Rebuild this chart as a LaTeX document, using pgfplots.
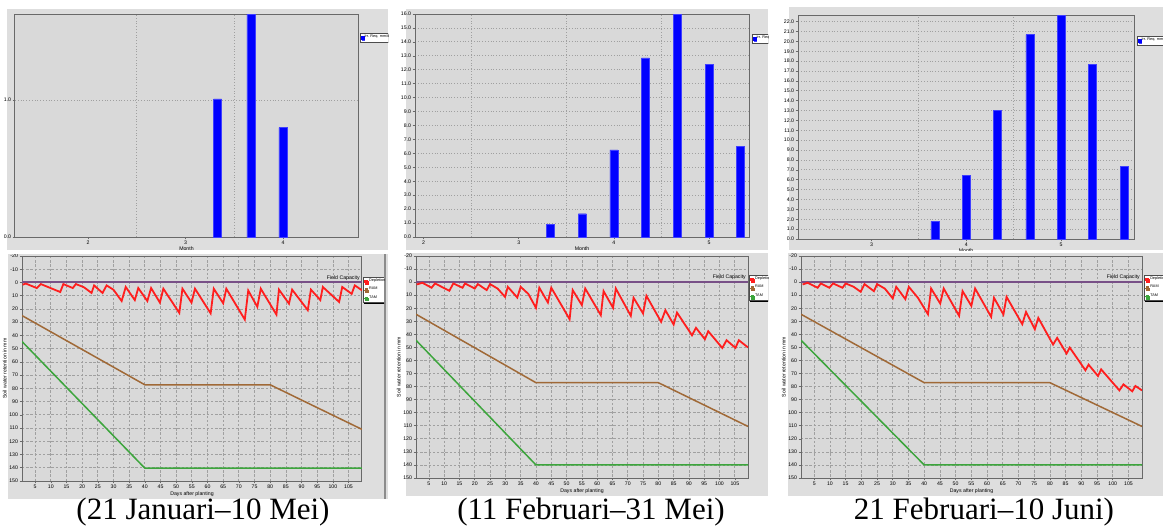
\documentclass[border=0pt]{standalone}
\usepackage{fontspec}
\setmainfont{Liberation Sans}
\newfontfamily\capfont{Liberation Serif}
\usepackage{pgfplots}
\pgfplotsset{compat=1.18}
\usetikzlibrary{shadows}

\definecolor{panelgray}{RGB}{222,222,222}
\definecolor{plotbg}{RGB}{217,217,217}
\definecolor{framegray}{RGB}{105,105,105}
\definecolor{gridgray}{RGB}{160,160,160}
\definecolor{depred}{RGB}{255,30,30}
\definecolor{rambrown}{RGB}{160,105,55}
\definecolor{tamgreen}{RGB}{60,165,60}
\definecolor{fcpurple}{RGB}{120,80,135}
\definecolor{barblue}{RGB}{0,0,255}

\newcommand{\tinyfont}{\fontsize{2.6}{3}\selectfont}
\newcommand{\legfont}{\fontsize{1.9}{2.2}\selectfont}

\tikzset{fclabel/.style={pos=1, anchor=south east, font=\tinyfont, text=black, inner sep=0.6pt}}

\pgfplotsset{
  mycommon/.style={
    scale only axis,
    anchor=north west,
    axis background/.style={fill=plotbg},
    axis line style={draw=framegray, line width=0.5pt},
    tick style={draw=framegray, line width=0.3pt},
    major tick length=1.2pt,
    tick align=outside,
    xtick pos=bottom, ytick pos=left,
    ticklabel style={font=\tinyfont, inner sep=0.6pt},
    label style={font=\tinyfont, inner sep=0.5pt},
    /pgf/number format/assume math mode=true,
    legend style={font=\legfont, draw=black!70, fill=white, inner sep=0.5pt,
      outer sep=0pt, anchor=north west, row sep=0.8pt,
      nodes={inner sep=0.3pt},
      general shadow={fill=black, shadow xshift=0.3pt, shadow yshift=-0.7pt}},
    legend cell align=left,
  },
  topax/.style={
    mycommon,
    ymin=0,
    xmajorgrids=false, ymajorgrids=true,
    grid style={densely dotted, draw=gridgray, line width=0.4pt},
    extra x tick labels={},
    extra x tick style={grid=major, major tick length=0pt},
    yticklabel style={/pgf/number format/.cd, fixed, fixed zerofill, precision=1},
    xlabel={Month}, xlabel style={yshift=1.5pt},
    legend image code/.code={\fill[barblue] (0pt,-0.7pt) rectangle (1.3pt,0.8pt);},
  },
  botax/.style={
    mycommon,
    y dir=reverse, ymin=-20, ymax=150, ytick={-20,-10,...,150},
    xmin=0.8, xmax=109.3, xtick={5,10,...,105},
    grid=major,
    grid style={dash pattern=on 1.2pt off 0.9pt, draw=gridgray, line width=0.35pt},
    xlabel={Days after planting}, ylabel={Soil water retention in mm},
    legend image code/.code={\draw[#1, line width=0.3pt] (0pt,0pt) -- (2pt,0pt);
      \fill[#1] (0.5pt,-0.5pt) rectangle (1.5pt,0.5pt);},
  },
  irr/.style={ybar, bar width=4pt, bar shift=0pt, fill=barblue, draw=blue!75!white, line width=0.2pt},
  fc/.style={fcpurple, line width=1pt, forget plot},
  dep/.style={depred, line width=0.9pt},
  ram/.style={rambrown, line width=0.75pt},
  tam/.style={tamgreen, line width=0.75pt},
}

\begin{document}
\begin{tikzpicture}
\useasboundingbox (0,0) rectangle (581.5pt,-263.5pt);
\fill[white] (0,0) rectangle (581.5pt,-263.5pt);

% panels
\fill[panelgray] (3.5pt,-4.5pt) rectangle (194pt,-125pt);
\fill[panelgray] (203pt,-4.5pt) rectangle (384pt,-125pt);
\fill[panelgray] (394.5pt,-3.5pt) rectangle (581.5pt,-125pt);
\fill[panelgray] (4pt,-127pt) rectangle (194pt,-249.5pt);
\fill[panelgray] (203pt,-126.5pt) rectangle (384pt,-248pt);
\fill[panelgray] (394pt,-126.5pt) rectangle (581.5pt,-248pt);
\draw[black!45, line width=0.6pt] (192.5pt,-127pt) -- (192.5pt,-249.5pt);

% ---------- column 1, top
\begin{scope}
\clip (0pt,-4.5pt) rectangle (194pt,-125pt);
\begin{axis}[topax, at={(7.5pt,-7pt)}, width=171.5pt, height=111.5pt,
  xmin=1.25, xmax=4.77, ymax=1.63, ytick={0,1}, xtick={2,3,4},
  extra x ticks={2.5,3.5}, legend style={at={(1.006,0.915)}}]
\addplot[irr] coordinates {(3.33,1.01) (3.67,1.63) (4.0,0.80)};
\addlegendentry{Irr. Req. mm/dec}
\end{axis}
\end{scope}

% ---------- column 2, top
\begin{scope}
\clip (197pt,-4.5pt) rectangle (384pt,-125pt);
\begin{axis}[topax, at={(207.5pt,-7pt)}, width=167pt, height=111.5pt,
  xmin=1.91, xmax=5.42, ymax=16, ytick={0,1,...,16}, xtick={2,3,4,5},
  extra x ticks={2.5,3.5,4.5}, legend style={at={(1.009,0.91)}}]
\addplot[irr] coordinates {(3.33,0.93) (3.67,1.67) (4.0,6.25) (4.33,12.86)
  (4.67,16.0) (5.0,12.39) (5.33,6.49)};
\addlegendentry{Irr. Req. mm/dec}
\end{axis}
\end{scope}

% ---------- column 3, top
\begin{scope}
\clip (388pt,-3.5pt) rectangle (581.5pt,-125pt);
\begin{axis}[topax, at={(399pt,-7.5pt)}, width=168pt, height=112pt,
  xmin=2.225, xmax=5.77, ymax=22.67, ytick={0,1,...,22}, xtick={3,4,5},
  extra x ticks={3.5,4.5}, legend style={at={(1.009,0.906)}}]
\addplot[irr] coordinates {(3.67,1.79) (4.0,6.42) (4.33,13.0) (4.67,20.68)
  (5.0,22.67) (5.33,17.7) (5.67,7.33)};
\addlegendentry{Irr. Req. mm/dec}
\end{axis}
\end{scope}

% ---------- column 1, bottom
\begin{scope}
\clip (0pt,-127pt) rectangle (192pt,-249.5pt);
\begin{axis}[botax, at={(11pt,-128pt)}, width=170pt, height=112.5pt,
  legend style={at={(1.003,0.907)}}]
\addplot[fc] coordinates {(0.8,0) (109.3,0)} node[fclabel] {Field Capacity};
\addplot[dep] coordinates {
  (1,1.7) (2,0.8) (5.5,4.2) (6.8,1.2) (13,7.2) (14,1.2) (17,4.2) (18,1.2)
  (20.5,3.5) (23,7.9) (23.8,2.2) (26.5,7.9) (27.8,2.2) (30,5.5) (32.6,14)
  (33.9,3.4) (36.8,13.3) (37.9,4.2) (40.8,14) (42,4.2) (44.8,15.2) (45.9,4.7)
  (51,23) (52,4.7) (54.9,15.2) (56,4.7) (61,23.3) (62,4.7) (65,15.7) (66,4.7)
  (71.9,28) (73,6.1) (75.9,18.4) (77,4.7) (82,24.3) (82.8,5.4) (86,16) (87,5.4)
  (92,20.9) (93,5.4) (96,13.3) (96.8,3.4) (102,14.7) (103,3.4) (106,8.6)
  (107,2.2) (109.3,5.9)};
\addlegendentry{Depletion}
\addplot[ram] coordinates {(0.8,25) (40,77.3) (80,77.3) (109.3,111)};
\addlegendentry{RAM}
\addplot[tam] coordinates {(0.8,44.6) (40,140.3) (109.3,140.3)};
\addlegendentry{TAM}
\end{axis}
\end{scope}

% ---------- column 2, bottom
\begin{scope}
\clip (197pt,-126.5pt) rectangle (384pt,-248pt);
\begin{axis}[botax, at={(208pt,-128pt)}, width=166pt, height=111pt,
  legend style={at={(1.003,0.914)}}]
\addplot[fc] coordinates {(0.8,0) (109.3,0)} node[fclabel] {Field Capacity};
\addplot[dep] coordinates {
  (1,1.8) (2.9,0.5) (5.9,4.3) (7,1) (11.7,6.6) (13,1) (16,4.3) (16.8,1)
  (20,4.9) (21,1.5) (23.9,6.1) (25,1.5) (27.5,5) (29.9,11.3) (30.8,3.6)
  (33.9,11.8) (35,3.6) (37.5,9) (40,19.7) (41.1,4.3) (43.9,15.6) (45,4.3)
  (51,28.4) (52,6.1) (55,17.6) (56.1,4.9) (61.2,25.3) (62.1,6.9) (65.2,19.7)
  (66.1,4.9) (71,25.8) (71.9,12) (75,24) (76.1,10.5) (80.9,30.4) (82.3,21.5)
  (85,32.5) (86.1,23.3) (91,40.7) (92.3,35) (95.2,43.7) (96.3,37.6)
  (100.9,50.4) (102.3,44.5) (105.2,50.4) (106.3,44.5) (109.3,50)};
\addlegendentry{Depletion}
\addplot[ram] coordinates {(0.8,24.6) (40,77) (80,77) (109.3,110.5)};
\addlegendentry{RAM}
\addplot[tam] coordinates {(0.8,44.5) (40,140) (109.3,140)};
\addlegendentry{TAM}
\end{axis}
\end{scope}

% ---------- column 3, bottom
\begin{scope}
\clip (388pt,-126.5pt) rectangle (581.5pt,-248pt);
\begin{axis}[botax, at={(400.5pt,-128pt)}, width=170.5pt, height=111pt,
  legend style={at={(1.006,0.914)}}]
\addplot[fc] coordinates {(0.8,0) (109.3,0)} node[fclabel] {Field Capacity};
\addplot[dep] coordinates {
  (1.3,1.8) (2.9,0.5) (6.1,4.3) (7.1,1) (9.8,4.3) (11,1) (14,4.3) (15,1)
  (17.5,3.5) (19.8,7.4) (21,1.5) (24,6.9) (25,1.5) (27.5,5) (30,12.5)
  (31.1,3.6) (34,13) (35.1,3.6) (38,12) (41.2,24.6) (42.2,4.9) (45.1,16.4)
  (46.2,4.9) (51.1,25.8) (52.2,6.9) (55,18.2) (56.2,4.9) (61.3,26.6)
  (62.2,12) (65.2,24.8) (66.2,11.3) (71.2,32.2) (72.4,22.8) (75.2,36.1)
  (76.3,27.4) (81,47.8) (82.3,42.7) (85.3,54.7) (86.3,50.1) (91.3,67.5)
  (92.3,63.2) (95.3,71.9) (96.3,66.8) (102.1,82.9) (103.4,78.3) (106.2,83.6)
  (107.2,79.5) (109.3,82.9)};
\addlegendentry{Depletion}
\addplot[ram] coordinates {(0.8,24.6) (40,77) (80,77) (109.3,110.5)};
\addlegendentry{RAM}
\addplot[tam] coordinates {(0.8,44.5) (40,140) (109.3,140)};
\addlegendentry{TAM}
\end{axis}
\end{scope}

% captions
\node[font=\capfont\fontsize{15.5}{17}\selectfont, anchor=base, inner sep=0pt]
  at (101.5pt,-259.5pt) {(21 Januari–10 Mei)};
\node[font=\capfont\fontsize{15.5}{17}\selectfont, anchor=base, inner sep=0pt]
  at (295.5pt,-259.5pt) {(11 Februari–31 Mei)};
\node[font=\capfont\fontsize{15.5}{17}\selectfont, anchor=base, inner sep=0pt]
  at (492pt,-259.5pt) {21 Februari–10 Juni)};
\end{tikzpicture}
\end{document}
